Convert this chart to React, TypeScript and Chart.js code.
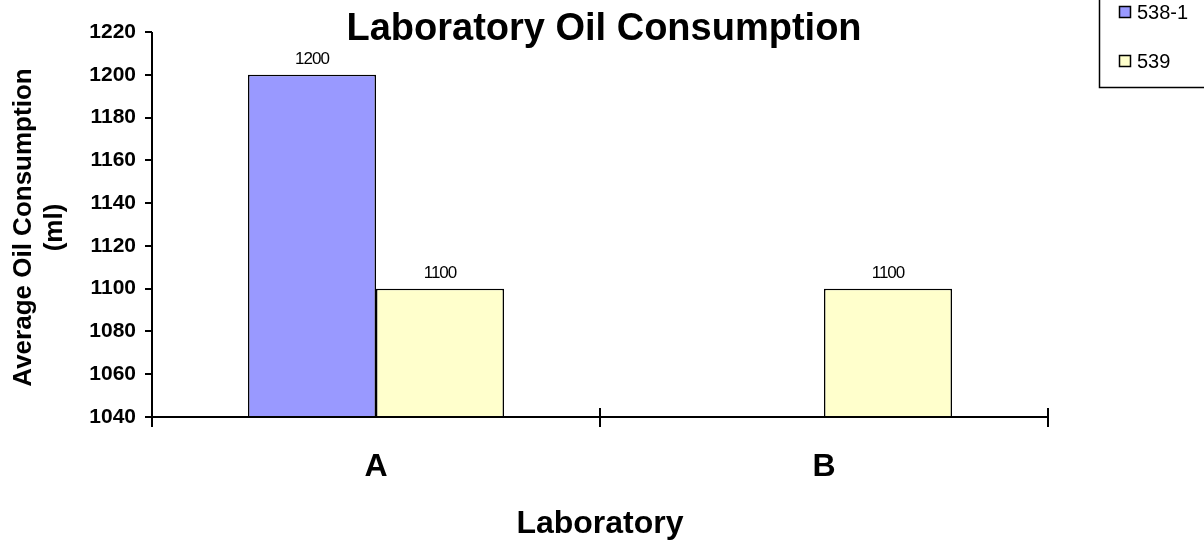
import React, { useEffect, useRef } from "react";
import { Chart, registerables } from "chart.js";

Chart.register(...registerables);

const categories = ["A", "B"];
const seriesNames = ["538-1", "539"];
const series5381: (number | null)[] = [1200, null];
const series539: (number | null)[] = [1100, 1100];
const seriesColors = ["#9999FF", "#FFFFCC"];
const yMin = 1040;
const yMax = 1220;
const yStep = 20;
const chartTitle = "Laboratory Oil Consumption";
const yTitleLines = ["Average Oil Consumption", "(ml)"];
const xTitle = "Laboratory";

const FONT = "'Liberation Sans', Arial, Helvetica, sans-serif";

const decorPlugin = {
  id: "decor",
  afterDraw(chart: any) {
    const ctx = chart.ctx as CanvasRenderingContext2D;
    const area = chart.chartArea;
    const xs = chart.scales.x;
    const ys = chart.scales.y;
    ctx.save();
    ctx.strokeStyle = "#000";
    ctx.lineWidth = 2;
    // axis lines
    ctx.beginPath();
    ctx.moveTo(area.left, area.top);
    ctx.lineTo(area.left, area.bottom);
    ctx.lineTo(area.right, area.bottom);
    ctx.stroke();
    // x-axis tick marks crossing the axis
    const n = categories.length;
    for (let i = 0; i <= n; i++) {
      const px = Math.round(xs.left + (i * xs.width) / n);
      ctx.beginPath();
      ctx.moveTo(px, area.bottom - 9);
      ctx.lineTo(px, area.bottom + 10);
      ctx.stroke();
    }
    // y-axis tick marks
    ys.ticks.forEach((t: any) => {
      const py = Math.round(ys.getPixelForValue(t.value));
      ctx.beginPath();
      ctx.moveTo(area.left - 7, py);
      ctx.lineTo(area.left, py);
      ctx.stroke();
    });
    // title
    ctx.fillStyle = "#000";
    ctx.font = `bold 38px ${FONT}`;
    ctx.textAlign = "center";
    ctx.textBaseline = "alphabetic";
    ctx.fillText(chartTitle, 604, 40);
    // x title
    ctx.font = `bold 32px ${FONT}`;
    ctx.fillText(xTitle, (area.left + area.right) / 2, 533);
    // y title
    ctx.save();
    ctx.translate(24, (area.top + area.bottom) / 2 + 3);
    ctx.rotate(-Math.PI / 2);
    ctx.font = `bold 26px ${FONT}`;
    ctx.textBaseline = "middle";
    yTitleLines.forEach((t, i) => ctx.fillText(t, 0, i * 31));
    ctx.restore();
    // legend
    ctx.lineWidth = 1.5;
    ctx.strokeRect(1099.5, -20, 200, 107.5);
    ctx.font = `20px ${FONT}`;
    ctx.textAlign = "left";
    ctx.textBaseline = "middle";
    chart.data.datasets.forEach((ds: any, i: number) => {
      const cy = 12 + i * 49;
      ctx.fillStyle = ds.backgroundColor;
      ctx.fillRect(1119.5, cy - 5.5, 11, 11);
      ctx.strokeRect(1119.5, cy - 5.5, 11, 11);
      ctx.fillStyle = "#000";
      ctx.fillText(ds.label, 1137, cy + 1);
    });
    ctx.restore();
  },
  afterDatasetsDraw(chart: any) {
    const ctx = chart.ctx as CanvasRenderingContext2D;
    ctx.save();
    ctx.fillStyle = "#000";
    ctx.font = `17px ${FONT}`;
    (ctx as any).letterSpacing = "-1px";
    ctx.textAlign = "center";
    ctx.textBaseline = "bottom";
    chart.data.datasets.forEach((ds: any, di: number) => {
      const meta = chart.getDatasetMeta(di);
      meta.data.forEach((el: any, j: number) => {
        const v = ds.data[j];
        if (v === null || v === undefined) return;
        ctx.fillText(String(v), el.x, el.y - 7);
      });
    });
    ctx.restore();
  },
};

export default function App() {
  const ref = useRef<HTMLCanvasElement | null>(null);
  useEffect(() => {
    document.body.style.margin = "0";
    const canvas = ref.current!;
    const chart = new Chart(canvas, {
      type: "bar",
      data: {
        labels: categories,
        datasets: [
          {
            label: seriesNames[0],
            data: series5381,
            backgroundColor: seriesColors[0],
            borderColor: "#000",
            borderWidth: 1.5,
            categoryPercentage: 256 / 448,
            barPercentage: 1,
          },
          {
            label: seriesNames[1],
            data: series539,
            backgroundColor: seriesColors[1],
            borderColor: "#000",
            borderWidth: 1.5,
            categoryPercentage: 256 / 448,
            barPercentage: 1,
          },
        ],
      },
      options: {
        responsive: false,
        animation: false,
        devicePixelRatio: 1,
        layout: { padding: { left: 0, right: 156, top: 32, bottom: 0 } },
        plugins: {
          legend: { display: false },
          title: { display: false },
          tooltip: { enabled: false },
        },
        scales: {
          x: {
            grid: { display: false },
            border: { display: false },
            ticks: {
              color: "#000",
              font: { family: FONT, size: 32, weight: "bold" },
              padding: 23,
            },
            afterFit(scale: any) {
              scale.height = 127;
            },
          },
          y: {
            min: yMin,
            max: yMax,
            ticks: {
              stepSize: yStep,
              color: "#000",
              font: { family: FONT, size: 21, weight: "bold" },
              padding: 8,
              callback: (v: any) => String(v),
            },
            grid: { display: false },
            border: { display: false },
            afterFit(scale: any) {
              scale.width = 152;
            },
          },
        },
      },
      plugins: [decorPlugin],
    } as any);
    return () => chart.destroy();
  }, []);
  return (
    <canvas
      ref={ref}
      width={1204}
      height={544}
      style={{ display: "block", width: 1204, height: 544 }}
    />
  );
}
